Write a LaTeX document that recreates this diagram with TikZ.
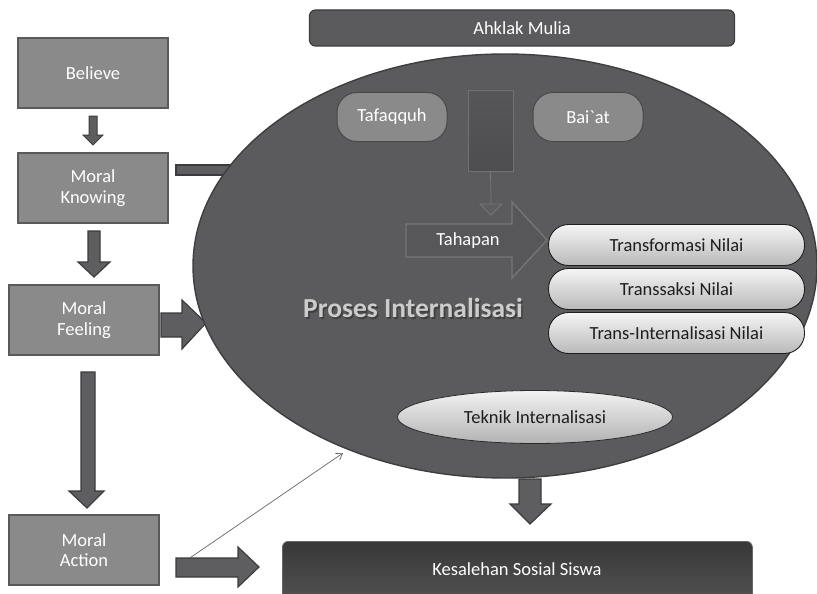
\documentclass[tikz,border=0pt]{standalone}
\usepackage{fontspec}
\setmainfont{Carlito}
\usetikzlibrary{shapes.geometric,arrows.meta,shadows}
\definecolor{boxfill}{HTML}{8A8A8A}
\definecolor{boxline}{HTML}{5A5A5A}
\definecolor{ovalfill}{HTML}{5B5B5D}
\definecolor{ovalline}{HTML}{3E3E3E}
\definecolor{arrowfill}{HTML}{5E5E60}
\definecolor{arrowline}{HTML}{3C3C3C}
\definecolor{pilltext}{HTML}{1E1E1E}
\tikzset{
  lbl/.style={font=\fontsize{18.5}{20.5}\selectfont},
  sidebox/.style={draw=boxline, line width=1.6pt, fill=boxfill,
    minimum width=150pt, minimum height=70pt, align=center, text=white, lbl},
  fatarrow/.style={draw=arrowline, line width=1.2pt, fill=arrowfill},
  greypill/.style={fill=boxfill, draw=ovalfill!80!black, line width=1pt,
    rounded corners=20pt, minimum width=110pt, minimum height=49pt, text=white, lbl},
  valuepill/.style={draw=pilltext, line width=0.9pt, top color=gray!8, bottom color=gray!55,
    rounded corners=20pt, minimum width=256pt, minimum height=41pt, text=pilltext, lbl},
  darkbar/.style={draw=arrowline, line width=1.2pt, rounded corners=6pt, text=white, lbl}
}
\newcommand{\shadowedtitle}[1]{%
  \makebox[0pt][l]{\hspace{1.6pt}\raisebox{-1.6pt}{\color{black!75}#1}}#1}
\begin{document}
\begin{tikzpicture}[x=1pt,y=-1pt]
\useasboundingbox (0,0) rectangle (817,594);
\clip (0,0) rectangle (817,594);

% left column of moral stages
\node[sidebox] (believe) at (93,73) {Believe};
\node[sidebox] (knowing) at (93,188) {Moral\\Knowing};
\node[sidebox] (feeling) at (84,320) {Moral\\Feeling};
\node[sidebox] (action)  at (84,550) {Moral\\Action};

% block arrows between the stages
\draw[fatarrow, line width=1pt]
  (89,116) -- (97,116) -- (97,135) -- (103,135) -- (93,145) -- (83,135) -- (89,135) -- cycle;
\draw[fatarrow]
  (88,231) -- (100,231) -- (100,262) -- (110,262) -- (94,277) -- (78,262) -- (88,262) -- cycle;
\draw[fatarrow]
  (81,372) -- (95,372) -- (95,491) -- (104,491) -- (87,508) -- (69,491) -- (81,491) -- cycle;

% arrows into the internalisation process
\draw[fatarrow] (176,165) -- (240,165) -- (240,175) -- (176,175) -- cycle;
\draw[fatarrow]
  (161,313) -- (182,313) -- (182,300) -- (206,323) -- (182,349) -- (182,337) -- (161,337) -- cycle;
\draw[fatarrow]
  (176,558) -- (238,558) -- (238,547) -- (259,567) -- (238,587) -- (238,577) -- (176,577) -- cycle;

% internalisation process oval
\node[ellipse, draw=ovalline, line width=1.4pt, fill=ovalfill,
  minimum width=624pt, minimum height=424pt] (proses) at (505,266) {};

% top outcome bar
\node[darkbar, fill=ovalfill, minimum width=425pt, minimum height=36pt] (akhlak) at (522,28) {Ahklak Mulia};

% methods inside the oval
\node[greypill] (tafaqquh) at (392,117) {Tafaqquh};
\node[greypill] (baiat) at (588,117) {Bai\textasciigrave at};
\node[draw=gray!60!ovalfill, line width=0.6pt, top color=ovalfill!95!black, bottom color=ovalfill!85!black,
  minimum width=45pt, minimum height=81pt] (pillar) at (490.5,130.5) {};
\coordinate (tip) at (491,204);
\draw[gray!70!ovalfill, line width=0.8pt] (pillar.south) -- (tip);
\draw[fill=arrowfill, draw=gray!70!ovalfill, line width=0.8pt] (480,204) -- (502,204) -- (491,215) -- cycle;

% stages arrow
\draw[fill=ovalfill!96!black, draw=gray!75!ovalfill, line width=1.3pt]
  (406,224) -- (512,224) -- (512,202) -- (547,240) -- (512,278) -- (512,257) -- (406,257) -- cycle;
\node[text=white, lbl] (tahapan) at (468,241) {Tahapan};

\node[valuepill] (transformasi) at (676.5,245) {Transformasi Nilai};
\node[valuepill] (transaksi) at (676.5,289) {Transsaksi Nilai};
\node[valuepill] (transint) at (676.5,333) {Trans-Internalisasi Nilai};

\node[font=\fontsize{27.5}{30}\selectfont\bfseries, text=gray!40] (prosestitle) at (413,309)
  {\shadowedtitle{Proses Internalisasi}};

\node[ellipse, draw=ovalline!70!black, line width=0.8pt, top color=gray!10, bottom color=gray!60,
  minimum width=275pt, minimum height=53pt, text=pilltext, lbl] (teknik) at (535,417) {Teknik Internalisasi};

% from the oval to the result
\draw[fatarrow]
  (519,479) -- (541,479) -- (541,504) -- (551,504) -- (530,524) -- (510,504) -- (519,504) -- cycle;

\node[darkbar, draw=black!60, line width=0.8pt, top color=black!78, bottom color=black!68,
  minimum width=470pt, minimum height=60pt, anchor=north west] (kesalehan) at (282,541) {};
\node[text=white, lbl] at (517,569) {Kesalehan Sosial Siswa};

% thin link from action back into the process
\draw[black!60, line width=0.7pt, -{Straight Barb[length=6pt,width=8pt]}] (action.east) ++(30,8) coordinate (linkstart) -- (343,453);
\end{tikzpicture}
\end{document}
